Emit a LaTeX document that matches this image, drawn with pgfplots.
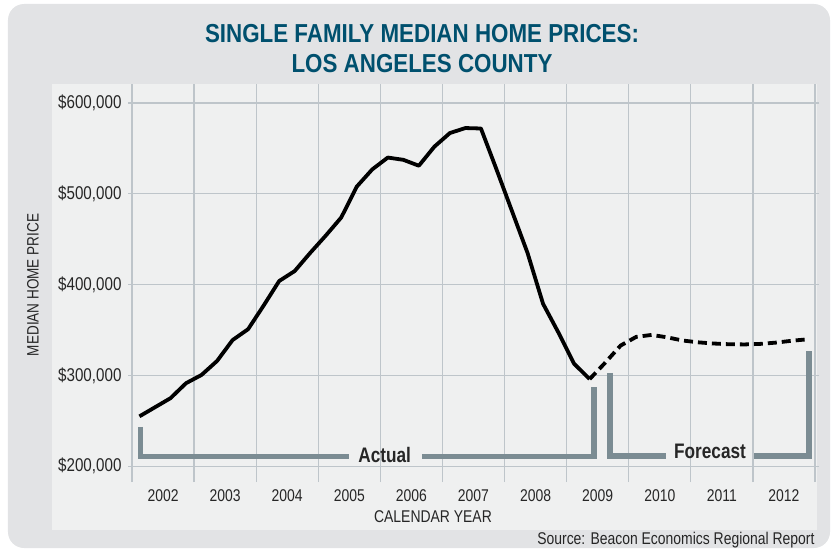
\documentclass[border=0pt]{standalone}
\usepackage{fontspec}
\setmainfont{Liberation Sans}[FakeStretch=0.82]
\newfontfamily\titlefont{Liberation Sans}[FakeStretch=0.86]
\usepackage{pgfplots}
\pgfplotsset{compat=1.18}
\definecolor{outerbg}{HTML}{E2E3E5}
\definecolor{panelbg}{HTML}{EFF0F0}
\definecolor{gridc}{HTML}{BEC5CA}
\definecolor{titleblue}{HTML}{00506E}
\definecolor{brk}{HTML}{7B8C93}
\definecolor{txt}{HTML}{262626}

\begin{document}
\begin{tikzpicture}
\useasboundingbox (-132pt,-68pt) rectangle (699pt,482pt);
\fill[outerbg, rounded corners=16pt] (-124pt,-66pt) rectangle (698pt,478pt);
\fill[panelbg] (-80pt,-48pt) rectangle (685pt,398pt);
\node[titleblue, font=\titlefont\bfseries\fontsize{26}{30}\selectfont, align=center]
  at (290pt,433pt) {SINGLE FAMILY MEDIAN HOME PRICES:\\LOS ANGELES COUNTY};
\node[txt, rotate=90, font=\fontsize{16.5}{19}\selectfont] at (-99pt,197pt) {MEDIAN HOME PRICE};
\node[txt, font=\fontsize{17}{19}\selectfont] at (301pt,-35pt) {CALENDAR YEAR};
\node[txt, anchor=east, font=\fontsize{17}{20}\selectfont] at (686pt,-58pt)
  {Source: Beacon Economics Regional Report};

\begin{axis}[
    at={(0pt,0pt)}, anchor=south west,
    scale only axis, width=683pt, height=398pt,
    xmin=2002, xmax=2013, ymin=182700, ymax=621000,
    axis line style={draw=none},
    xtick={2002.5,2003.5,2004.5,2005.5,2006.5,2007.5,2008.5,2009.5,2010.5,2011.5,2012.5},
    xticklabels={2002,2003,2004,2005,2006,2007,2008,2009,2010,2011,2012},
    minor xtick={2002,2003,2004,2005,2006,2007,2008,2009,2010,2011,2012,2013},
    xminorgrids, xmajorgrids=false,
    xtick style={draw=none},
    ytick={200000,300000,400000,500000,600000},
    yticklabels={{\$200,000},{\$300,000},{\$400,000},{\$500,000},{\$600,000}},
    ymajorgrids,
    ytick style={draw=gridc, line width=1.2pt},
    tick align=outside, major tick length=4pt,
    grid style={draw=gridc, line width=1.2pt},
    minor grid style={draw=gridc, line width=1.2pt},
    xticklabel style={font=\fontsize{17}{19}\selectfont, text=txt},
    yticklabel style={font=\fontsize{18.5}{21}\selectfont, text=txt, xshift=-3pt},
    /pgf/number format/assume math mode=true,
    scaled y ticks=false,
    clip=false,
]
% actual (quarterly)
\addplot[black, line width=3.8pt, line join=round] coordinates {
(2002.12,255000) (2002.37,265000) (2002.62,275000) (2002.87,291500)
(2003.12,300600) (2003.37,316000) (2003.62,339000) (2003.87,351000)
(2004.12,377000) (2004.37,404000) (2004.62,415000) (2004.87,435000)
(2005.12,454000) (2005.37,474000) (2005.62,508000) (2005.87,527000)
(2006.12,540000) (2006.37,537500) (2006.62,531000) (2006.87,552000)
(2007.12,567000) (2007.37,572500) (2007.62,572000) (2007.87,527000)
(2008.12,481000) (2008.37,435000) (2008.62,379000) (2008.87,347000)
(2009.12,313000) (2009.37,296000)
};
% forecast
\addplot[black, line width=3.8pt, line join=round, dash pattern=on 9pt off 5pt] coordinates {
(2009.37,296000) (2009.62,314000) (2009.87,333000) (2010.12,342500)
(2010.37,344700) (2010.62,342000) (2010.87,338500) (2011.12,336500)
(2011.37,335200) (2011.62,334400) (2011.87,334200) (2012.12,334800)
(2012.37,336200) (2012.62,338200) (2012.90,340000)
};
% brackets
\draw[brk, line width=5.5pt, line join=miter] (axis cs:2002.137,243300) |- (axis cs:2005.495,210800);
\draw[brk, line width=5.5pt, line join=miter] (axis cs:2006.67,210800) -| (axis cs:2009.44,287400);
\draw[brk, line width=5.5pt, line join=miter] (axis cs:2009.70,302800) |- (axis cs:2010.60,211300);
\draw[brk, line width=5.5pt, line join=miter] (axis cs:2012.02,211300) -| (axis cs:2012.903,327050);
\node[txt, anchor=base, font=\bfseries\fontsize{21}{24}\selectfont] at (axis cs:2006.07,204400) {Actual};
\node[txt, anchor=base, font=\bfseries\fontsize{21}{24}\selectfont] at (axis cs:2011.31,208800) {Forecast};
\end{axis}
\end{tikzpicture}
\end{document}
